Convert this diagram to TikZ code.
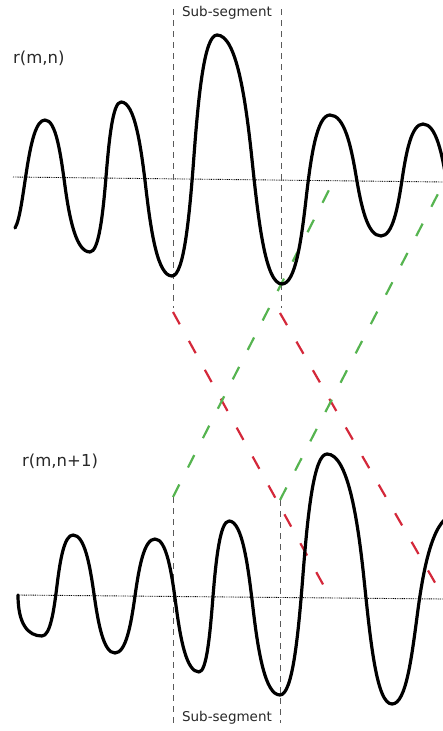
\documentclass[tikz,border=0pt]{standalone}
\usepackage{fontspec}
\setmainfont{DejaVu Sans}
\definecolor{redline}{RGB}{212,40,58}
\definecolor{greenline}{RGB}{86,180,80}
\definecolor{guide}{RGB}{90,90,90}
\definecolor{txt}{RGB}{40,40,40}
\begin{document}
\begin{tikzpicture}[x=1pt,y=-1pt,
  wave/.style={line width=3.2pt,black,line cap=round,line join=round},
  axisline/.style={line width=0.9pt,black,dash pattern=on 0.9pt off 0.9pt},
  guideline/.style={line width=0.9pt,guide,dash pattern=on 6pt off 5pt},
  redmap/.style={line width=2.2pt,redline,dash pattern=on 14pt off 19pt},
  greenmap/.style={line width=2.2pt,greenline,dash pattern=on 14pt off 19pt},
  lbl/.style={font=\fontsize{16.5}{19}\selectfont,text=txt,inner sep=0pt},
  seglbl/.style={font=\fontsize{13.5}{16}\selectfont,text=txt,inner sep=0pt}]
\useasboundingbox (0,0) rectangle (443,731);
\clip (0,0) rectangle (443,731);

% named coordinates
\coordinate (ta1) at (13,177);  \coordinate (ta2) at (443,182);
\coordinate (ba1) at (17,595);  \coordinate (ba2) at (443,599);
\coordinate (tg1a) at (173,9);  \coordinate (tg1b) at (173,308);
\coordinate (tg2a) at (281,9);  \coordinate (tg2b) at (281,308);
\coordinate (bg1a) at (173,497); \coordinate (bg1b) at (173,723);
\coordinate (bg2a) at (280,500); \coordinate (bg2b) at (280,723);
\coordinate (r1a) at (173,312); \coordinate (r1b) at (325,588);
\coordinate (r2a) at (280,313); \coordinate (r2b) at (445,600);
\coordinate (g1a) at (173,497); \coordinate (g1b) at (330,188);
\coordinate (g2a) at (280,500); \coordinate (g2b) at (440,190);

% axes
\draw[axisline] (ta1) -- (ta2);
\draw[axisline] (ba1) -- (ba2);

% sub-segment guides
\draw[guideline] (tg1a) -- (tg1b);
\draw[guideline] (tg2a) -- (tg2b);
\draw[guideline] (bg1a) -- (bg1b);
\draw[guideline] (bg2a) -- (bg2b);

% mapping lines
\draw[redmap] (r1a) -- (r1b);
\draw[redmap] (r2a) -- (r2b);
\draw[greenmap] (g1a) -- (g1b);
\draw[greenmap] (g2a) -- (g2b);

% waveform segments: extremum (xa,ya) -> crossing at xm -> extremum (xb,yb)
\def\kk{0.55}
\def\kv{0.5}
\def\bb{0.1}
\foreach \xa/\ya/\xm/\xb/\yb in {
  45/120/65/90/252, 90/252/106/121/102, 121/102/146/172/276,
  172/276/194/217/35, 217/35/252/282/284, 282/284/306/330/115,
  330/115/356/381/236, 381/236/402/423/124, 423/124/447/470/245,
  42/636/57/73/535, 73/535/94/115/653, 115/653/135/155/539,
  155/539/176/199/672, 199/672/213/229/521, 229/521/253/280/695,
  280/695/303/327/454, 327/454/364/392/704, 392/704/418/455/515}{
  \pgfmathsetmacro\ym{(\ya+\yb)/2}
  \pgfmathsetmacro\cax{\xa+\kk*(\xm-\xa)}
  \pgfmathsetmacro\cbx{\xm-\bb*(\xb-\xa)}
  \pgfmathsetmacro\cby{\ym-\kv*(\ym-\ya)}
  \pgfmathsetmacro\ccx{\xm+\bb*(\xb-\xa)}
  \pgfmathsetmacro\ccy{\ym+\kv*(\yb-\ym)}
  \pgfmathsetmacro\cdx{\xb-\kk*(\xb-\xm)}
  \draw[wave] (\xa,\ya) .. controls (\cax,\ya) and (\cbx,\cby) .. (\xm,\ym)
    .. controls (\ccx,\ccy) and (\cdx,\yb) .. (\xb,\yb);
}
% free starting ends
\draw[wave] (15,228) .. controls (25,212) and (27,120) .. (45,120);
\draw[wave] (18,595) .. controls (18,624) and (28,636) .. (42,636);

% labels
\node[lbl,anchor=west] (lt) at (13,58) {r(m,n)};
\node[lbl,anchor=west] (lb) at (22,461) {r(m,n+1)};
\node[seglbl] (st) at (227,13) {Sub-segment};
\node[seglbl] (sb) at (227,718) {Sub-segment};
\end{tikzpicture}
\end{document}
